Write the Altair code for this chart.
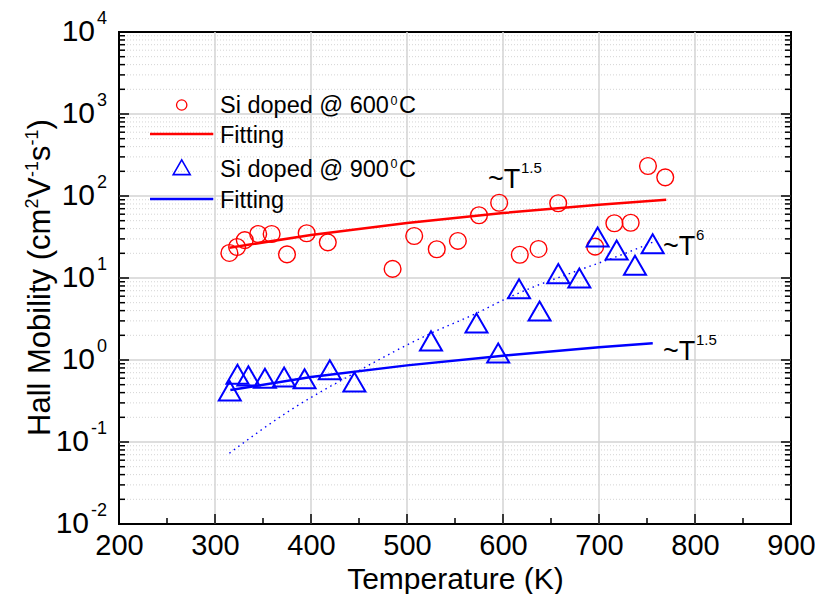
import altair as alt
import pandas as pd

# ---------------- data ----------------
red_T = [315, 323, 331, 345, 359, 375, 395.5, 417.5, 485, 507.5, 531, 553, 575, 596,
         617.5, 637, 657.5, 696, 716, 733, 751, 769]
red_mu = [20.2, 23.9, 29, 34.4, 34.4, 19.4, 35.1, 27.2, 12.9, 32.5, 22.4, 28.3, 58.2, 82.8,
          19.2, 22.6, 81.5, 24.1, 46.5, 47.2, 232, 169]

blue_T = [315.4, 323.4, 334.8, 352, 372, 393.3, 419.6, 445.2, 525, 572.4, 595, 616.7,
          638.1, 657.6, 679.5, 698.6, 718.4, 737.5, 755.9]
blue_mu = [0.42, 0.67, 0.64, 0.60, 0.62, 0.59, 0.76, 0.54, 1.71, 2.83, 1.22, 7.4,
           3.96, 11.3, 10, 31.6, 21.9, 14.3, 26.2]

fit600_T = [315, 400, 500, 600, 700, 770]
fit600_mu = [23.4, 33.5, 47, 62, 78, 90]

fit900_T = [316, 400, 500, 600, 700, 756]
fit900_mu = [0.43, 0.62, 0.86, 1.13, 1.43, 1.6]

t6_T = [315, 378.6, 445, 525, 572, 604, 632, 670, 736, 757]
t6_mu = [0.073, 0.245, 0.69, 2.12, 3.7, 5.65, 7.8, 11.4, 21.9, 27.7]

x_labels = [200, 300, 400, 500, 600, 700, 800, 900]
x_grid = [300, 400, 500, 600, 700, 800]
x_minor = [250, 350, 450, 550, 650, 750, 850]
y_decades = [0.01, 0.1, 1, 10, 100, 1000, 10000]
y_exps = ["-2", "-1", "0", "1", "2", "3", "4"]
y_minor = [m * d for d in [0.01, 0.1, 1, 10, 100, 1000] for m in range(2, 10)]

ann_T = [584.4, 766.7, 766.7]
ann_mu = [125, 19.1, 1.0]
ann_sup = ["1.5", "6", "1.5"]

# ---------------- styling ----------------
W, H = 672, 492
FONT = "Liberation Sans"
RED = "#ff0000"
BLUE = "#0000ff"

xscale = alt.Scale(domain=[200, 900], nice=False, zero=False)
yscale = alt.Scale(type="log", domain=[0.01, 10000], nice=False)
xaxis = alt.Axis(values=x_labels, ticks=False, domain=False, grid=False,
                 labelFont=FONT, labelFontSize=29, labelColor="black",
                 labelPadding=7, labelFlush=False, labelOverlap=False,
                 title="Temperature (K)", titleFont=FONT, titleFontSize=30,
                 titleFontWeight="normal", titleColor="black", titlePadding=4)
yaxis = alt.Axis(labels=False, ticks=False, domain=False, grid=False, title=None)


def X(f):
    return alt.X(f, type="quantitative", scale=xscale, axis=xaxis)


def Y(f):
    return alt.Y(f, type="quantitative", scale=yscale, axis=yaxis)


one = pd.DataFrame({"a": [0]})
df_red = pd.DataFrame({"T": red_T, "mu": red_mu})
df_blue = pd.DataFrame({"T": blue_T, "mu": blue_mu})
df_f600 = pd.DataFrame({"T": fit600_T, "mu": fit600_mu})
df_f900 = pd.DataFrame({"T": fit900_T, "mu": fit900_mu})
df_t6 = pd.DataFrame({"T": t6_T, "mu": t6_mu})
df_ytl = pd.DataFrame({"v": y_decades, "exp": y_exps, "base": ["10"] * len(y_decades)})
df_ann = pd.DataFrame({"T": ann_T, "mu": ann_mu, "sup": ann_sup, "base": ["~T"] * 3})

# grid
g_minor = alt.Chart(pd.DataFrame({"v": y_minor})).mark_rule(
    color="#d4d4d4", strokeWidth=1, strokeDash=[1, 2]).encode(y=Y("v"))
g_major_h = alt.Chart(pd.DataFrame({"v": y_decades[1:-1]})).mark_rule(
    color="#d3d3d3", strokeWidth=1.5).encode(y=Y("v"))
g_major_v = alt.Chart(pd.DataFrame({"v": x_grid})).mark_rule(
    color="#d3d3d3", strokeWidth=1.5).encode(x=X("v"))

# inward ticks
tk = dict(color="black", strokeWidth=1.5)
t_left_maj = alt.Chart(pd.DataFrame({"v": y_decades})).mark_rule(**tk).encode(
    y=Y("v"), x=alt.value(0), x2=alt.value(10))
t_left_min = alt.Chart(pd.DataFrame({"v": y_minor})).mark_rule(**tk).encode(
    y=Y("v"), x=alt.value(0), x2=alt.value(6))
t_right_maj = alt.Chart(pd.DataFrame({"v": y_decades})).mark_rule(**tk).encode(
    y=Y("v"), x=alt.value(W - 10), x2=alt.value(W))
t_right_min = alt.Chart(pd.DataFrame({"v": y_minor})).mark_rule(**tk).encode(
    y=Y("v"), x=alt.value(W - 6), x2=alt.value(W))
t_bot_maj = alt.Chart(pd.DataFrame({"v": x_labels})).mark_rule(**tk).encode(
    x=X("v"), y=alt.value(H), y2=alt.value(H - 10))
t_bot_min = alt.Chart(pd.DataFrame({"v": x_minor})).mark_rule(**tk).encode(
    x=X("v"), y=alt.value(H), y2=alt.value(H - 6))

# data
l600 = alt.Chart(df_f600).mark_line(color=RED, strokeWidth=2.5).encode(x=X("T"), y=Y("mu"))
l900 = alt.Chart(df_f900).mark_line(color=BLUE, strokeWidth=2.5).encode(x=X("T"), y=Y("mu"))
lt6 = alt.Chart(df_t6).mark_line(color=BLUE, strokeWidth=1.4, strokeDash=[1.5, 4],
                                 interpolate="monotone").encode(x=X("T"), y=Y("mu"))
p600 = alt.Chart(df_red).mark_point(shape="circle", filled=False, color=RED, size=280,
                                    strokeWidth=1.4, opacity=1).encode(x=X("T"), y=Y("mu"))
p900 = alt.Chart(df_blue).mark_point(shape="triangle-up", filled=False, color=BLUE, size=484,
                                     strokeWidth=2, opacity=1).encode(x=X("T"), y=Y("mu"))

# y tick labels (10 with superscript exponent)
ytl_base1 = alt.Chart(df_ytl).transform_filter("length(datum.exp) == 1").mark_text(
    font=FONT, fontSize=30, align="right", baseline="middle", color="black").encode(
    y=Y("v"), x=alt.value(-24), text="base:N")
ytl_base2 = alt.Chart(df_ytl).transform_filter("length(datum.exp) == 2").mark_text(
    font=FONT, fontSize=30, align="right", baseline="middle", color="black").encode(
    y=Y("v"), x=alt.value(-30), text="base:N")
ytl_exp = alt.Chart(df_ytl).mark_text(
    font=FONT, fontSize=18, align="right", baseline="middle", color="black", dy=-13).encode(
    y=Y("v"), x=alt.value(-12), text="exp:N")

# annotations
ann_base = alt.Chart(df_ann).mark_text(font=FONT, fontSize=27, align="left",
                                       baseline="alphabetic", color="black").encode(
    x=X("T"), y=Y("mu"), text="base:N")
ann_sup_l = alt.Chart(df_ann).mark_text(font=FONT, fontSize=15, align="left",
                                        baseline="alphabetic", color="black",
                                        dx=33, dy=-15).encode(
    x=X("T"), y=Y("mu"), text="sup:N")


def txt(s, x, y, style):
    return alt.Chart(one).mark_text(text=s, **style).encode(x=alt.value(x), y=alt.value(y))


# y-axis title built from pieces (rotated), to get small superscripts
tm = dict(font=FONT, fontSize=31, align="left", baseline="alphabetic", color="black", angle=270)
tsup = dict(font=FONT, fontSize=18, align="left", baseline="alphabetic", color="black", angle=270)
TX = -69      # baseline of the main text (relative to plot left)
TXS = -81     # baseline of superscripts
ytitle = [
    txt("Hall Mobility (cm", TX, 404, tm),
    txt("2", TXS, 176.5, tsup),
    txt("V", TX, 166, tm),
    txt("-1", TXS, 145, tsup),
    txt("s", TX, 129, tm),
    txt("-1", TXS, 113.5, tsup),
    txt(")", TX, 97.5, tm),
]

# legend (manual)
lt = dict(font=FONT, fontSize=23.5, align="left", baseline="alphabetic", color="black")
ls = dict(font=FONT, fontSize=12.5, align="left", baseline="alphabetic", color="black")

leg = [
    alt.Chart(one).mark_point(shape="circle", filled=False, color=RED, size=107,
                              strokeWidth=1.3, opacity=1).encode(x=alt.value(62.7), y=alt.value(73)),
    alt.Chart(one).mark_rule(color=RED, strokeWidth=2.5).encode(
        x=alt.value(31), x2=alt.value(94.3), y=alt.value(102)),
    alt.Chart(one).mark_point(shape="triangle-up", filled=False, color=BLUE, size=289,
                              strokeWidth=1.6, opacity=1).encode(x=alt.value(62.7), y=alt.value(135.3)),
    alt.Chart(one).mark_rule(color=BLUE, strokeWidth=2.5).encode(
        x=alt.value(31), x2=alt.value(94.3), y=alt.value(167)),
    txt("Si doped @ 600", 101, 81.3, lt), txt("0", 271.5, 73, ls), txt("C", 280, 81.3, lt),
    txt("Fitting", 101, 111.3, lt),
    txt("Si doped @ 900", 101, 144.7, lt), txt("0", 271.5, 136.4, ls), txt("C", 280, 144.7, lt),
    txt("Fitting", 101, 176.3, lt),
]

chart = alt.layer(
    g_minor, g_major_h, g_major_v,
    t_left_maj, t_left_min, t_right_maj, t_right_min, t_bot_maj, t_bot_min,
    l600, l900, lt6, p600, p900,
    ytl_base1, ytl_base2, ytl_exp, ann_base, ann_sup_l,
    *ytitle, *leg,
).properties(
    width=W, height=H,
    autosize=alt.AutoSizeParams(type="none"),
    padding={"left": 111, "top": 24, "right": 24, "bottom": 70},
    background="white",
).configure_view(stroke="black", strokeWidth=2)

chart.save("out.html", embed_options={"renderer": "svg", "actions": False})
